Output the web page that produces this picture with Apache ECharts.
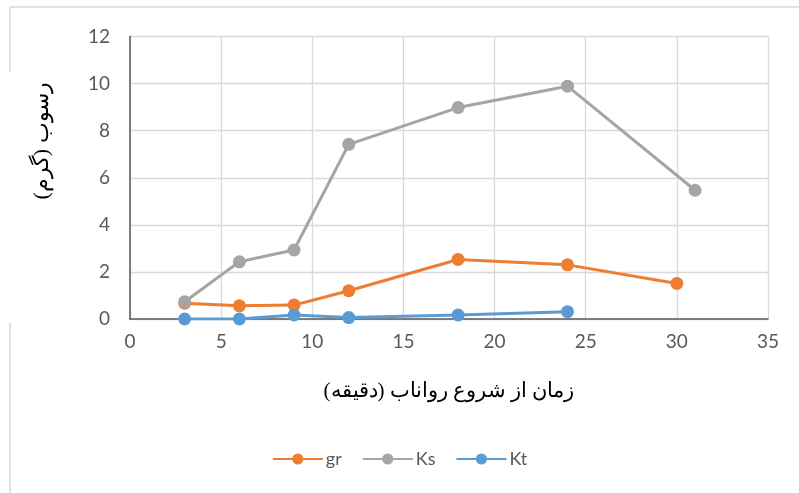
<!DOCTYPE html>
<html>
<head>
<meta charset="utf-8">
<script src="https://cdn.jsdelivr.net/npm/echarts@6/dist/echarts.min.js"></script>
<style>html,body{margin:0;padding:0;background:#fff}#c{width:799px;height:493px}</style>
</head>
<body>
<div id="c"></div>
<script>
var grX = [3, 6, 9, 12, 18, 24, 30];
var grY = [0.67, 0.56, 0.59, 1.2, 2.53, 2.3, 1.51];
var ksX = [3, 6, 9, 12, 18, 24, 31];
var ksY = [0.73, 2.43, 2.93, 7.42, 8.98, 9.89, 5.47];
var ktX = [3, 6, 9, 12, 18, 24];
var ktY = [0.0, 0.0, 0.17, 0.06, 0.17, 0.31];
var seriesNames = ['gr', 'Ks', 'Kt'];
var seriesColors = ['#ED7D31', '#A5A5A5', '#5B9BD5'];
var xTitle = 'زمان از شروع رواناب (دقیقه)';
var yTitle = 'رسوب (گرم)';

function pairs(xs, ys) { return xs.map(function (x, i) { return [x, ys[i]]; }); }
var allData = [pairs(grX, grY), pairs(ksX, ksY), pairs(ktX, ktY)];

var chart = echarts.init(document.getElementById('c'), null, {renderer: 'canvas'});
var labelFont = 'Lato, "Open Sans", sans-serif';
var arFont = '"Times New Roman", "DejaVu Serif", serif';
chart.setOption({
  animation: false,
  backgroundColor: '#fff',
  grid: {left: 130, right: 31, top: 36.5, bottom: 174, containLabel: false},
  xAxis: {
    type: 'value', min: 0, max: 35, interval: 5,
    axisLine: {show: true, lineStyle: {color: '#595959', width: 1.5}},
    axisTick: {show: false},
    splitLine: {show: true, lineStyle: {color: '#D9D9D9', width: 1.3}},
    axisLabel: {color: '#595959', fontSize: 19, fontFamily: labelFont, margin: 13},
    name: xTitle, nameLocation: 'middle', nameGap: 62,
    nameTextStyle: {color: '#000', fontSize: 21, fontFamily: arFont}
  },
  yAxis: {
    type: 'value', min: 0, max: 12, interval: 2,
    axisLine: {show: true, lineStyle: {color: '#595959', width: 1.5}},
    axisTick: {show: false},
    splitLine: {show: true, lineStyle: {color: '#D9D9D9', width: 1.3}},
    axisLabel: {color: '#595959', fontSize: 19, fontFamily: labelFont, margin: 20}
  },
  legend: {
    bottom: 20, left: 'center', itemWidth: 50, itemHeight: 14, itemGap: 20,
    textStyle: {color: '#595959', fontSize: 18, fontFamily: labelFont, padding: [0, 0, 0, -2]},
    data: seriesNames
  },
  graphic: [
    {type: 'line', shape: {x1: 10, y1: 7, x2: 799, y2: 7}, style: {stroke: '#D9D9D9', lineWidth: 1.5}},
    {type: 'line', shape: {x1: 10, y1: 7, x2: 10, y2: 72}, style: {stroke: '#D9D9D9', lineWidth: 1.5}},
    {type: 'line', shape: {x1: 10, y1: 323, x2: 10, y2: 493}, style: {stroke: '#D9D9D9', lineWidth: 1.5}},
    {type: 'text', x: 42, y: 141, rotation: Math.PI / 2,
     style: {text: yTitle, fill: '#000', font: '22px ' + arFont, textAlign: 'center', textVerticalAlign: 'middle'}}
  ],
  series: seriesNames.map(function (n, i) {
    return {
      name: n, type: 'line', data: allData[i],
      symbol: 'circle', symbolSize: 13,
      itemStyle: {color: seriesColors[i]},
      lineStyle: {color: seriesColors[i], width: 3}
    };
  })
});
</script>
</body>
</html>
